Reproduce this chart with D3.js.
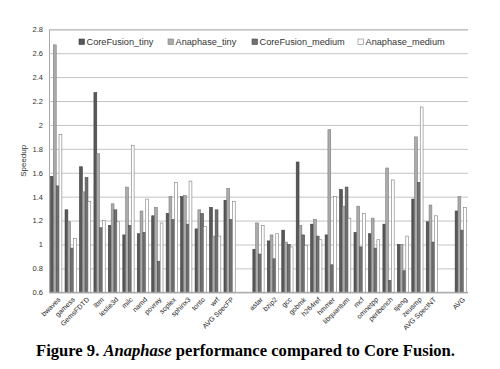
<!DOCTYPE html>
<html>
<head>
<meta charset="utf-8">
<script src="https://cdn.jsdelivr.net/npm/d3@7"></script>
<style>
  body { margin: 0; background: #fff; }
  svg { display: block; }
</style>
</head>
<body>
<svg id="chart" width="500" height="369"></svg>
<script>
// ---- data ----
const categories = ["bwaves","gamess","GemsFDTD","lbm","leslie3d","milc","namd","povray","soplex","sphinx3","tonto","wrf","AVG SpecFP","",
  "astar","bzip2","gcc","gobmk","h264ref","hmmer","libquantum","mcf","omnetpp","perlbench","sjeng","zeusmp","AVG SpecINT","","AVG"];
const seriesNames = ["CoreFusion_tiny","Anaphase_tiny","CoreFusion_medium","Anaphase_medium"];
const coreFusionTiny   = [1.57,1.29,1.65,2.27,1.16,1.08,1.09,1.24,1.26,1.40,1.13,1.31,1.37,null,
  0.96,1.03,1.12,1.69,1.17,1.08,1.46,1.10,1.09,1.17,1.00,1.38,1.19,null,1.28];
const anaphaseTiny     = [2.67,1.19,1.44,1.76,1.34,1.48,1.28,1.31,1.40,1.41,1.29,1.07,1.47,null,
  1.18,1.08,1.02,1.16,1.21,1.96,1.32,1.32,1.22,1.64,1.00,1.90,1.33,null,1.40];
const coreFusionMedium = [1.49,0.97,1.56,1.14,1.29,1.16,1.10,0.86,1.21,1.17,1.26,1.29,1.21,null,
  0.92,0.88,1.00,1.08,1.07,0.83,1.48,0.98,0.97,0.70,0.78,1.52,1.02,null,1.12];
const anaphaseMedium   = [1.92,1.05,1.36,1.20,1.19,1.83,1.38,1.18,1.52,1.53,1.15,1.07,1.36,null,
  1.16,1.09,0.98,0.99,1.04,1.40,1.22,1.26,1.04,1.54,1.07,2.15,1.24,null,1.31];
const yTicks = [0.6,0.8,1,1.2,1.4,1.6,1.8,2,2.2,2.4,2.6,2.8];
const yTickLabels = ["0.6","0.8","1","1.2","1.4","1.6","1.8","2","2.2","2.4","2.6","2.8"];

const fills   = ["#585858","#ababab","#707070","#ffffff"];
const strokes = ["#3c3c3c","#7c7c7c","#4c4c4c","#7c7c7c"];
const series = [coreFusionTiny, anaphaseTiny, coreFusionMedium, anaphaseMedium];

// ---- layout ----
const svg = d3.select("#chart");
const plotL = 49, plotR = 468, plotT = 29.3, plotB = 292.3;

const x0 = d3.scaleBand().domain(d3.range(categories.length)).range([plotL, plotR])
  .paddingInner(0.22).paddingOuter(0.11);
const x1 = d3.scaleBand().domain(d3.range(4)).range([0, x0.bandwidth()]);
const y = d3.scaleLinear().domain([0.6, 2.8]).range([plotB, plotT]);

// gridlines
const yAxis = d3.axisLeft(y).tickValues(yTicks).tickFormat((d,i)=>yTickLabels[i])
  .tickSize(-(plotR-plotL)).tickPadding(6);
const gy = svg.append("g").attr("transform", `translate(${plotL},0)`).call(yAxis);
gy.select(".domain").attr("stroke", "#a8a8a8");
gy.selectAll(".tick line").attr("stroke", "#c4c4c4").attr("stroke-width", 1);
gy.selectAll(".tick text").attr("font-family", "Liberation Sans, Arial, sans-serif")
  .attr("font-size", 7.5).attr("fill", "#333");

// legend (drawn in the band between top two gridlines)
const legendX = [79, 168, 252, 358];
const lg = svg.append("g");
seriesNames.forEach((n, i) => {
  lg.append("rect").attr("x", legendX[i]).attr("y", 39).attr("width", 5.5).attr("height", 5.5)
    .attr("fill", fills[i]).attr("stroke", strokes[i]).attr("stroke-width", 0.6);
  lg.append("text").attr("x", legendX[i] + 7.5).attr("y", 45.2).text(n)
    .attr("font-family", "Liberation Sans, Arial, sans-serif").attr("font-size", 9.2).attr("fill", "#333");
});

// bars
const gBars = svg.append("g");
categories.forEach((c, ci) => {
  series.forEach((s, si) => {
    const v = s[ci];
    if (v == null) return;
    gBars.append("rect")
      .attr("x", x0(ci) + x1(si))
      .attr("y", y(v))
      .attr("width", x1.bandwidth())
      .attr("height", y(0.6) - y(v))
      .attr("fill", fills[si])
      .attr("stroke", strokes[si])
      .attr("stroke-width", 0.6);
  });
});

// bottom axis line
svg.append("line").attr("x1", plotL).attr("x2", plotR).attr("y1", plotB).attr("y2", plotB)
  .attr("stroke", "#a8a8a8");

// y title
svg.append("text").attr("transform", `translate(26,${(plotT+plotB)/2}) rotate(-90)`)
  .attr("text-anchor", "middle").text("Speedup")
  .attr("font-family", "Liberation Sans, Arial, sans-serif").attr("font-size", 8).attr("fill", "#333");

// x labels
const gx = svg.append("g");
categories.forEach((c, ci) => {
  if (!c) return;
  const cx = x0(ci) + x0.bandwidth() / 2;
  gx.append("text")
    .attr("transform", `translate(${cx + 3},${plotB + 6}) rotate(-45)`)
    .attr("text-anchor", "end").attr("dy", "0.35em").text(c)
    .attr("font-family", "Liberation Sans, Arial, sans-serif").attr("font-size", 7).attr("fill", "#222");
});

// caption
const cap = svg.append("text").attr("x", 36).attr("y", 356)
  .attr("font-family", "Liberation Serif, Times New Roman, serif").attr("font-weight", "bold")
  .attr("font-size", 16.6).attr("fill", "#000");
cap.append("tspan").text("Figure 9. ");
cap.append("tspan").attr("font-style", "italic").text("Anaphase");
cap.append("tspan").text(" performance compared to Core Fusion.");
</script>
</body>
</html>
